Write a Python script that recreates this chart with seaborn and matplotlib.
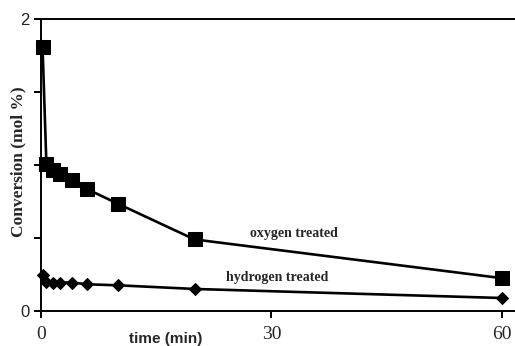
import matplotlib
matplotlib.use("Agg")
import matplotlib.pyplot as plt
import seaborn as sns
import pandas as pd

# data
time_min = [0.2, 0.7, 1.5, 2.5, 4, 6, 10, 20, 60]
oxygen_treated = [1.81, 1.01, 0.965, 0.94, 0.90, 0.835, 0.735, 0.49, 0.225]
hydrogen_treated = [0.245, 0.197, 0.19, 0.195, 0.195, 0.183, 0.176, 0.151, 0.089]
x_ticks = [0, 30, 60]
x_tick_labels = ["0", "30", "60"]
y_ticks = [0, 0.5, 1.0, 1.5, 2.0]
y_tick_labels = ["0", "", "", "", "2"]

sns.set_style("ticks")
plt.rcParams["font.family"] = ["Liberation Serif", "DejaVu Serif"]

df_o = pd.DataFrame({"t": time_min, "c": oxygen_treated})
df_h = pd.DataFrame({"t": time_min, "c": hydrogen_treated})

fig = plt.figure(figsize=(5.15, 3.46), dpi=100)
ax = fig.add_axes([41 / 515, 35 / 346, 1 - 41 / 515, 292 / 346])

sns.lineplot(data=df_o, x="t", y="c", ax=ax, color="black", lw=1.9,
             marker="s", markersize=9.5, markeredgecolor="black", markerfacecolor="black",
             clip_on=False)
sns.lineplot(data=df_h, x="t", y="c", ax=ax, color="black", lw=1.9,
             marker="D", markersize=6.5, markeredgecolor="black", markerfacecolor="black",
             clip_on=False)

ax.set_xlim(0, 474 / 7.68)
ax.set_ylim(0, 2)
ax.set_xticks(x_ticks)
ax.set_xticklabels(x_tick_labels, fontsize=14, family=["Liberation Serif"])
ax.set_yticks(y_ticks)
ax.set_yticklabels(y_tick_labels, fontsize=12, family=["Liberation Sans"])
ax.tick_params(axis="both", direction="out", length=5, width=1.4, color="black")
ax.tick_params(axis="x", pad=6)
ax.tick_params(axis="y", pad=3)

for s in ["left", "bottom", "top"]:
    ax.spines[s].set_linewidth(1.4)
    ax.spines[s].set_color("black")
ax.spines["top"].set_visible(True)
ax.spines["right"].set_visible(False)

ax.set_xlabel("time (min)", fontsize=11, fontweight="bold", family=["Liberation Sans"])
ax.xaxis.set_label_coords(0.262, -0.095)
ax.xaxis.label.set_verticalalignment("center")
ax.set_ylabel("Conversion (mol %)", fontsize=12.5, fontweight="bold", family=["Liberation Serif"])
ax.yaxis.set_label_coords(-0.047, 0.51)
ax.yaxis.label.set_verticalalignment("center")

ax.text(32.9, 0.53, "oxygen treated", fontsize=10, fontweight="bold",
        ha="center", va="center", family=["Liberation Serif"])
ax.text(30.7, 0.23, "hydrogen treated", fontsize=10, fontweight="bold",
        ha="center", va="center", family=["Liberation Serif"])

fig.savefig("out.png", dpi=100)
